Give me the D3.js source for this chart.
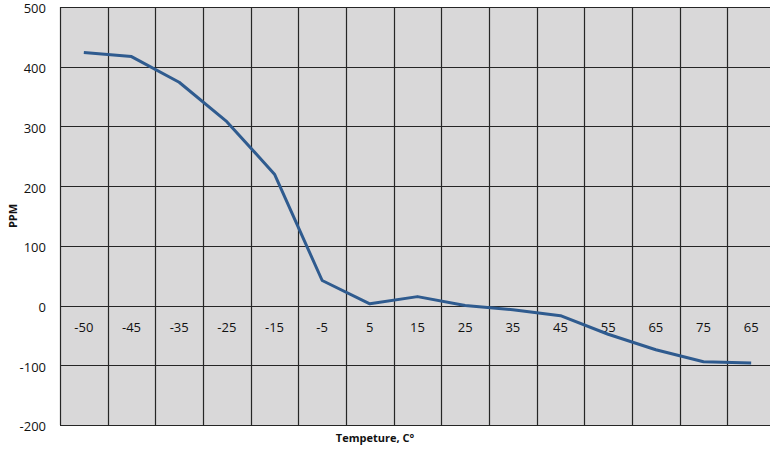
<!DOCTYPE html>
<html>
<head>
<meta charset="utf-8">
<script src="https://cdn.jsdelivr.net/npm/d3@7"></script>
<style>
  body { margin: 0; background: #fff; }
  text { font-family: "Open Sans", "Liberation Sans", sans-serif; }
</style>
</head>
<body>
<div id="chart"></div>
<script>
// data
const categories = ["-50", "-45", "-35", "-25", "-15", "-5", "5", "15", "25", "35", "45", "55", "65", "75", "65"];
const ppm = [424, 417, 374, 308, 220, 42, 3, 15, 0, -7, -17, -48, -74, -94, -96];
const yTicks = [-200, -100, 0, 100, 200, 300, 400, 500];

const width = 770;
const height = 451;
const margin = { top: 7, left: 60, bottom: 26 };
const plotW = 715; // runs a little past the right edge, like the original
const plotH = height - margin.top - margin.bottom;

const svg = d3.select("#chart")
  .append("svg")
  .attr("width", width)
  .attr("height", height);

const g = svg.append("g")
  .attr("transform", "translate(" + margin.left + "," + margin.top + ")");

const x = d3.scaleBand()
  .domain(d3.range(categories.length))
  .range([0, plotW]);

const y = d3.scaleLinear()
  .domain([-200, 500])
  .range([plotH, 0]);

// plot background
g.append("rect")
  .attr("width", plotW)
  .attr("height", plotH)
  .attr("fill", "#d9d8d9");

// horizontal grid
g.selectAll(".hgrid")
  .data(yTicks)
  .enter().append("line")
  .attr("x1", 0)
  .attr("x2", plotW)
  .attr("y1", d => Math.round(y(d)) + 0.5)
  .attr("y2", d => Math.round(y(d)) + 0.5)
  .attr("stroke", "#262626")
  .attr("stroke-width", 1.2);

// vertical grid between categories
g.selectAll(".vgrid")
  .data(d3.range(categories.length + 1))
  .enter().append("line")
  .attr("x1", d => Math.round(d * x.step()) + 0.5)
  .attr("x2", d => Math.round(d * x.step()) + 0.5)
  .attr("y1", 0)
  .attr("y2", plotH)
  .attr("stroke", "#262626")
  .attr("stroke-width", 1.2);

// y axis labels (plain hyphen minus, like the original)
const yAxis = g.append("g")
  .call(d3.axisLeft(y).tickValues(yTicks).tickFormat(d => String(d)).tickSize(0).tickPadding(14));
yAxis.select(".domain").remove();
yAxis.selectAll("text")
  .attr("dy", "0.45em")
  .attr("font-family", "'Open Sans', sans-serif")
  .attr("font-size", 13)
  .attr("fill", "#111");

// category labels sit just under the zero line
const xAxis = g.append("g")
  .attr("transform", "translate(0," + y(0) + ")")
  .call(d3.axisBottom(x).tickFormat(i => categories[i]).tickSize(0).tickPadding(17));
xAxis.select(".domain").remove();
xAxis.selectAll("text")
  .attr("font-family", "'Open Sans', sans-serif")
  .attr("font-size", 13)
  .attr("fill", "#111");

// the series
const line = d3.line()
  .x((d, i) => x(i) + x.bandwidth() / 2)
  .y(d => y(d));

g.append("path")
  .datum(ppm)
  .attr("d", line)
  .attr("fill", "none")
  .attr("stroke", "#2f5b8f")
  .attr("stroke-width", 3)
  .attr("stroke-linejoin", "round");

// axis titles
svg.append("text")
  .attr("transform", "translate(17," + (margin.top + y(150)) + ") rotate(-90)")
  .attr("text-anchor", "middle")
  .attr("font-size", 11)
  .attr("font-weight", "bold")
  .attr("fill", "#111")
  .text("PPM");

svg.append("text")
  .attr("x", 375)
  .attr("y", 442)
  .attr("text-anchor", "middle")
  .attr("font-size", 11)
  .attr("font-weight", "bold")
  .attr("fill", "#111")
  .text("Tempeture, C°");
</script>
</body>
</html>
